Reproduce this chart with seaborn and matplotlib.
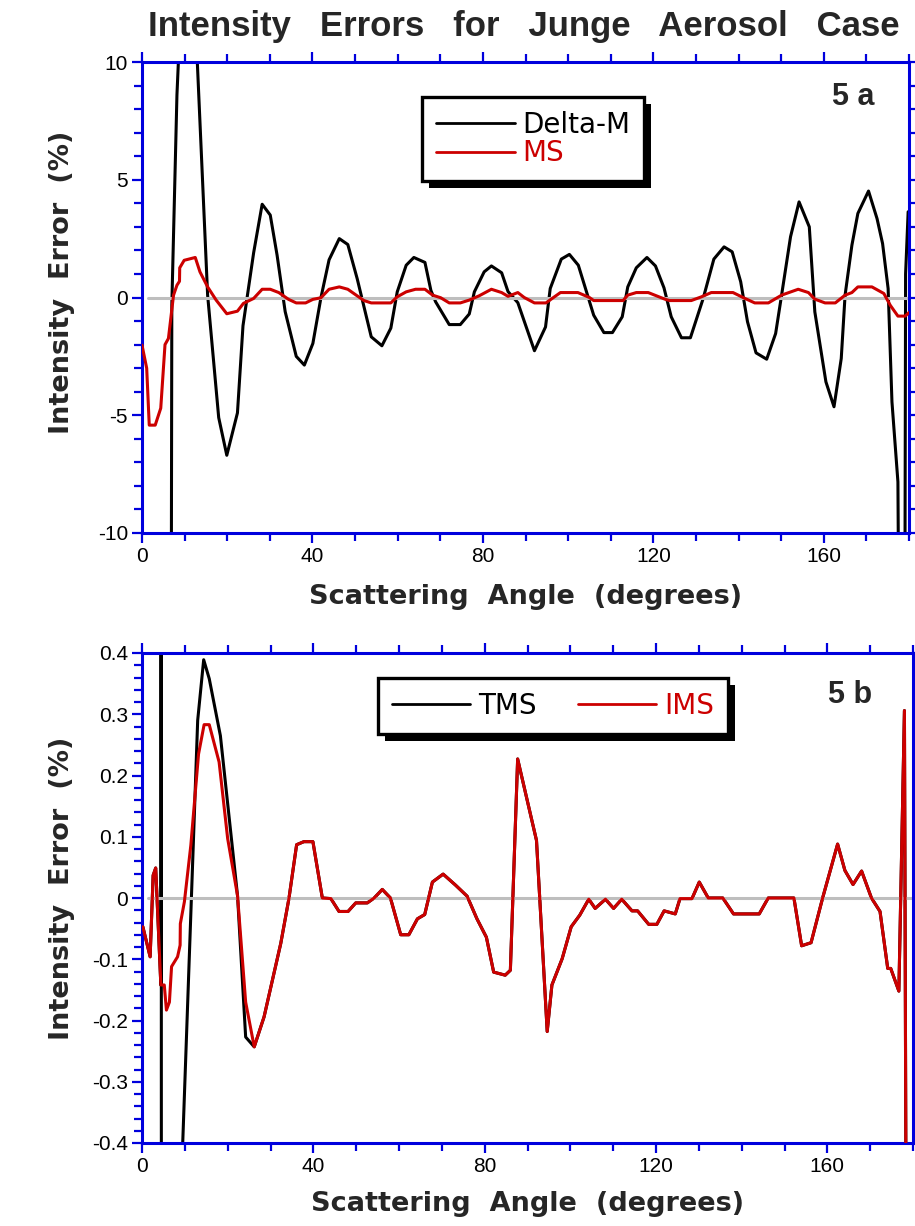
import matplotlib
matplotlib.use('Agg')
import matplotlib.pyplot as plt
import matplotlib.patheffects as pe
from matplotlib.ticker import MultipleLocator, FuncFormatter
import pandas as pd
import seaborn as sns

# ---- Fig 5a data (scattering angle in degrees, intensity error in %) ----
dm_angle = [6.6, 7.0, 8.2, 9.5, 12.0, 15.4, 18.0, 19.9, 22.4, 23.7, 26.2, 28.2, 30.1,
            31.7, 33.6, 36.2, 38.1, 40.1, 42.0, 43.9, 46.3, 48.3, 50.5, 53.8, 56.3,
            58.4, 59.9, 62.0, 63.8, 66.4, 67.8, 68.9, 72.1, 74.7, 76.8, 78.0, 80.3,
            82.0, 84.4, 85.9, 88.2, 92.1, 94.7, 95.8, 98.4, 100.3, 102.4, 106.0,
            108.4, 110.4, 112.7, 114.0, 116.0, 118.5, 120.5, 122.5, 124.2, 126.6,
            128.7, 131.7, 134.2, 136.6, 138.5, 140.5, 142.1, 144.1, 146.6, 148.7,
            150.1, 152.2, 154.2, 156.6, 157.9, 160.5, 162.4, 164.1, 165.0, 166.6,
            168.0, 170.5, 172.5, 173.8, 175.1, 176.0, 177.4, 178.0, 178.9, 179.2,
            179.8]
dm_error = [-40.0, -0.3, 8.6, 14.0, 14.0, 0.1, -5.1, -6.7, -4.9, -1.2, 1.9, 3.96, 3.5,
            1.8, -0.6, -2.5, -2.87, -1.95, 0.0, 1.6, 2.5, 2.25, 0.8, -1.67, -2.05,
            -1.3, 0.24, 1.37, 1.7, 1.49, 0.3, -0.18, -1.15, -1.15, -0.7, 0.24, 1.09,
            1.34, 1.05, 0.25, -0.22, -2.26, -1.25, 0.38, 1.63, 1.83, 1.37, -0.75,
            -1.49, -1.49, -0.82, 0.45, 1.26, 1.7, 1.34, 0.41, -0.82, -1.71,
            -1.71, -0.04, 1.63, 2.15, 1.94, 0.67, -1.03, -2.35, -2.62, -1.53,
            0.1, 2.58, 4.06, 3.0, -0.61, -3.58, -4.64, -2.59, 0.1, 2.22,
            3.57, 4.52, 3.35, 2.29, 0.38, -4.43, -7.83, -25.0, -25.0, 1.0,
            3.64]

ms_angle = [0.0, 1.1, 1.7, 3.1, 4.4, 5.4, 6.2, 7.4, 8.2, 8.8, 8.85, 9.9, 12.5, 13.6,
            15.4, 17.4, 19.9, 22.4, 23.8, 26.2, 28.2, 30.1, 32.1, 34.4, 36.2, 38.4,
            40.1, 42.0, 43.9, 46.3, 48.3, 50.5, 52.1, 53.8, 58.4, 59.9, 62.0, 64.2,
            66.4, 68.2, 70.1, 72.1, 74.7, 76.8, 79.1, 82.0, 84.4, 85.9, 88.2, 89.7,
            92.1, 94.8, 96.8, 98.2, 102.3, 105.0, 106.0, 112.9, 114.0, 116.0, 118.8,
            122.7, 123.8, 128.9, 131.3, 133.6, 138.7, 141.5, 143.8, 147.0, 150.1,
            154.0, 156.4, 157.9, 160.3, 162.7, 165.0, 166.6, 168.0, 171.3, 174.1,
            175.6, 177.4, 179.1, 180.0]
ms_error = [-2.02, -3.0, -5.42, -5.42, -4.7, -2.0, -1.74, 0.1, 0.52, 0.69, 1.26, 1.58,
            1.7, 1.09, 0.45, -0.11, -0.69, -0.58, -0.25, -0.04, 0.35, 0.35, 0.21,
            -0.08, -0.23, -0.23, -0.08, -0.01, 0.35, 0.45, 0.35, 0.07, -0.13, -0.23,
            -0.23, 0.03, 0.24, 0.35, 0.35, 0.1, -0.01, -0.23, -0.23, -0.11, 0.07,
            0.35, 0.21, 0.05, 0.21, 0.0, -0.23, -0.23, 0.03, 0.21, 0.21, 0.0, -0.13,
            -0.13, 0.1, 0.21, 0.21, -0.07, -0.13, -0.13, 0.03, 0.21, 0.21, -0.04,
            -0.23, -0.23, 0.1, 0.35, 0.21, -0.07, -0.23, -0.23, 0.1, 0.21, 0.45,
            0.45, 0.17, -0.33, -0.79, -0.79, -0.64]

# ---- Fig 5b data ----
ims_angle = [0.2, 1.9, 2.6, 3.2, 4.4, 5.2, 5.7, 6.4, 6.9, 8.3, 8.9, 8.95, 9.9, 11.4,
             13.2, 14.5, 15.7, 18.0, 20.0, 22.3, 24.2, 26.2, 28.5, 32.4, 34.3, 36.1,
             37.8, 39.9, 42.1, 44.1, 46.0, 48.1, 49.9, 52.6, 54.2, 56.1, 58.0, 60.4,
             62.3, 64.3, 66.0, 67.8, 70.3, 73.2, 75.9, 78.2, 80.4, 82.1, 84.8, 86.0,
             87.7, 92.1, 94.6, 95.7, 98.1, 100.2, 102.2, 104.3, 105.8, 108.2, 110.1,
             112.0, 114.4, 115.7, 118.3, 120.2, 121.9, 124.5, 125.6, 128.4, 130.1,
             132.2, 135.6, 138.1, 144.1, 146.2, 152.2, 154.0, 156.2, 158.9, 162.4,
             164.1, 166.0, 168.0, 170.3, 172.3, 174.1, 174.8, 176.7, 178.0, 178.6]
ims_error = [-0.047, -0.096, 0.037, 0.049, -0.142, -0.142, -0.183, -0.17, -0.112,
             -0.096, -0.077, -0.042, -0.006, 0.086, 0.235, 0.283, 0.283, 0.222, 0.097,
             0.004, -0.17, -0.243, -0.194, -0.074, -0.001, 0.087, 0.092, 0.092, 0.0,
             -0.001, -0.022, -0.022, -0.008, -0.008, 0.0, 0.014, 0.0, -0.06, -0.06,
             -0.034, -0.027, 0.026, 0.039, 0.021, 0.003, -0.034, -0.064, -0.121,
             -0.126, -0.118, 0.227, 0.094, -0.218, -0.142, -0.099, -0.047, -0.028,
             -0.002, -0.017, -0.002, -0.017, -0.002, -0.021, -0.021, -0.043, -0.043,
             -0.021, -0.026, -0.001, -0.001, 0.026, 0.0, 0.0, -0.026, -0.026, 0.0,
             0.0, -0.078, -0.073, 0.0, 0.088, 0.045, 0.022, 0.044, 0.0, -0.022,
             -0.115, -0.115, -0.152, 0.306, -1.0]

# TMS follows IMS except in the forward peak region
tms_head_angle = [0.2, 1.9, 2.6, 3.2, 4.4, 4.42, 4.6, 9.0, 13.0, 14.4, 15.7, 18.3,
                  22.3, 24.2]
tms_head_error = [-0.047, -0.096, 0.037, 0.049, -0.142, 5.0, -5.0, -0.5, 0.29, 0.389,
                  0.358, 0.265, 0.004, -0.227]
tms_angle = tms_head_angle + ims_angle[21:]
tms_error = tms_head_error + ims_error[21:]

RED = '#cc0000'
BLUE = '#0000dd'
GRAY = '#bebebe'
LABEL_FONT = {'family': 'DejaVu Sans', 'size': 19.5, 'weight': 'bold'}

sns.set_style('ticks')
plt.rcParams['font.family'] = ['Liberation Sans', 'DejaVu Sans']
plt.rcParams['axes.unicode_minus'] = False

fig = plt.figure(figsize=(9.15, 12.26), dpi=100)
ax1 = fig.add_axes([142 / 915, 1 - 533 / 1226, 767 / 915, 471 / 1226])
ax2 = fig.add_axes([142 / 915, 1 - 1143 / 1226, 771 / 915, 490 / 1226])


def style_axes(ax, ymajor, yminor, ylim):
    ax.set_xlim(0, 180)
    ax.set_ylim(*ylim)
    ax.xaxis.set_major_locator(MultipleLocator(40))
    ax.xaxis.set_minor_locator(MultipleLocator(10))
    ax.yaxis.set_major_locator(MultipleLocator(ymajor))
    ax.yaxis.set_minor_locator(MultipleLocator(yminor))
    for s in ax.spines.values():
        s.set_visible(True)
        s.set_color(BLUE)
        s.set_linewidth(2.2)
    ax.tick_params(which='both', direction='out', color=BLUE, top=True, right=True,
                   labelsize=15, labelcolor='black')
    ax.tick_params(which='major', length=7, width=1.6, pad=3)
    ax.tick_params(which='minor', length=5.5, width=1.6)
    ax.set_xlabel('Scattering  Angle  (degrees)', fontdict=LABEL_FONT)
    ax.set_ylabel('Intensity  Error  (%)', fontdict=LABEL_FONT)
    ax.axhline(0, xmin=0.008, color=GRAY, lw=2.2, zorder=2)


def shadow_legend(ax, **kw):
    leg = ax.legend(frameon=True, fancybox=False, borderaxespad=0,
                    prop={'family': 'DejaVu Sans', 'size': 20}, **kw)
    fr = leg.get_frame()
    fr.set_edgecolor('black')
    fr.set_linewidth(2.4)
    fr.set_alpha(1)
    fr.set_path_effects([pe.SimplePatchShadow(offset=(5, -5), shadow_rgbFace='black',
                                              alpha=1), pe.Normal()])
    for line, text in zip(leg.get_lines(), leg.get_texts()):
        text.set_color(line.get_color())
        line.set_linewidth(2)
    return leg


# ---- panel a ----
df_dm = pd.DataFrame({'angle': dm_angle, 'err': dm_error})
df_ms = pd.DataFrame({'angle': ms_angle, 'err': ms_error})
sns.lineplot(data=df_dm, x='angle', y='err', ax=ax1, color='black', lw=2.2,
             estimator=None, sort=False, label='Delta-M', zorder=1)
sns.lineplot(data=df_ms, x='angle', y='err', ax=ax1, color=RED, lw=2.2,
             estimator=None, sort=False, label='MS', zorder=3)
style_axes(ax1, 5, 1, (-10, 10))
ax1.yaxis.set_major_formatter(FuncFormatter(lambda v, p: f'{v:g}'))
ax1.xaxis.set_label_coords(0.5, -0.108)
ax1.yaxis.set_label_coords(-0.087, 0.533)
shadow_legend(ax1, loc='upper left', bbox_to_anchor=(0.365, 0.926),
              handlelength=2.85, handletextpad=0.25, labelspacing=0.02,
              borderpad=0.5)
ax1.text(0.927, 0.926, '5 a', transform=ax1.transAxes, fontsize=22,
         fontweight='bold', ha='center', va='center')

# ---- panel b ----
df_tms = pd.DataFrame({'angle': tms_angle, 'err': tms_error})
df_ims = pd.DataFrame({'angle': ims_angle, 'err': ims_error})
sns.lineplot(data=df_tms, x='angle', y='err', ax=ax2, color='black', lw=2.2,
             estimator=None, sort=False, label='TMS', zorder=1)
sns.lineplot(data=df_ims, x='angle', y='err', ax=ax2, color=RED, lw=2.2,
             estimator=None, sort=False, label='IMS', zorder=3)
style_axes(ax2, 0.1, 0.02, (-0.4, 0.4))
ax2.yaxis.set_major_formatter(FuncFormatter(lambda v, p: f'{round(v, 2):g}' if abs(v) > 1e-9 else '0'))
ax2.xaxis.set_label_coords(0.5, -0.098)
ax2.yaxis.set_label_coords(-0.087, 0.52)
shadow_legend(ax2, loc='upper left', bbox_to_anchor=(0.306, 0.949), ncol=2,
              handlelength=2.8, handletextpad=0.3, columnspacing=1.5,
              borderpad=0.5)
ax2.text(0.918, 0.914, '5 b', transform=ax2.transAxes, fontsize=22,
         fontweight='bold', ha='center', va='center')

fig.text(0.573, 1 - 36 / 1226, 'Intensity   Errors   for   Junge   Aerosol   Case',
         fontsize=25, fontweight='bold', ha='center', va='baseline')

fig.savefig('out.png', dpi=100)
